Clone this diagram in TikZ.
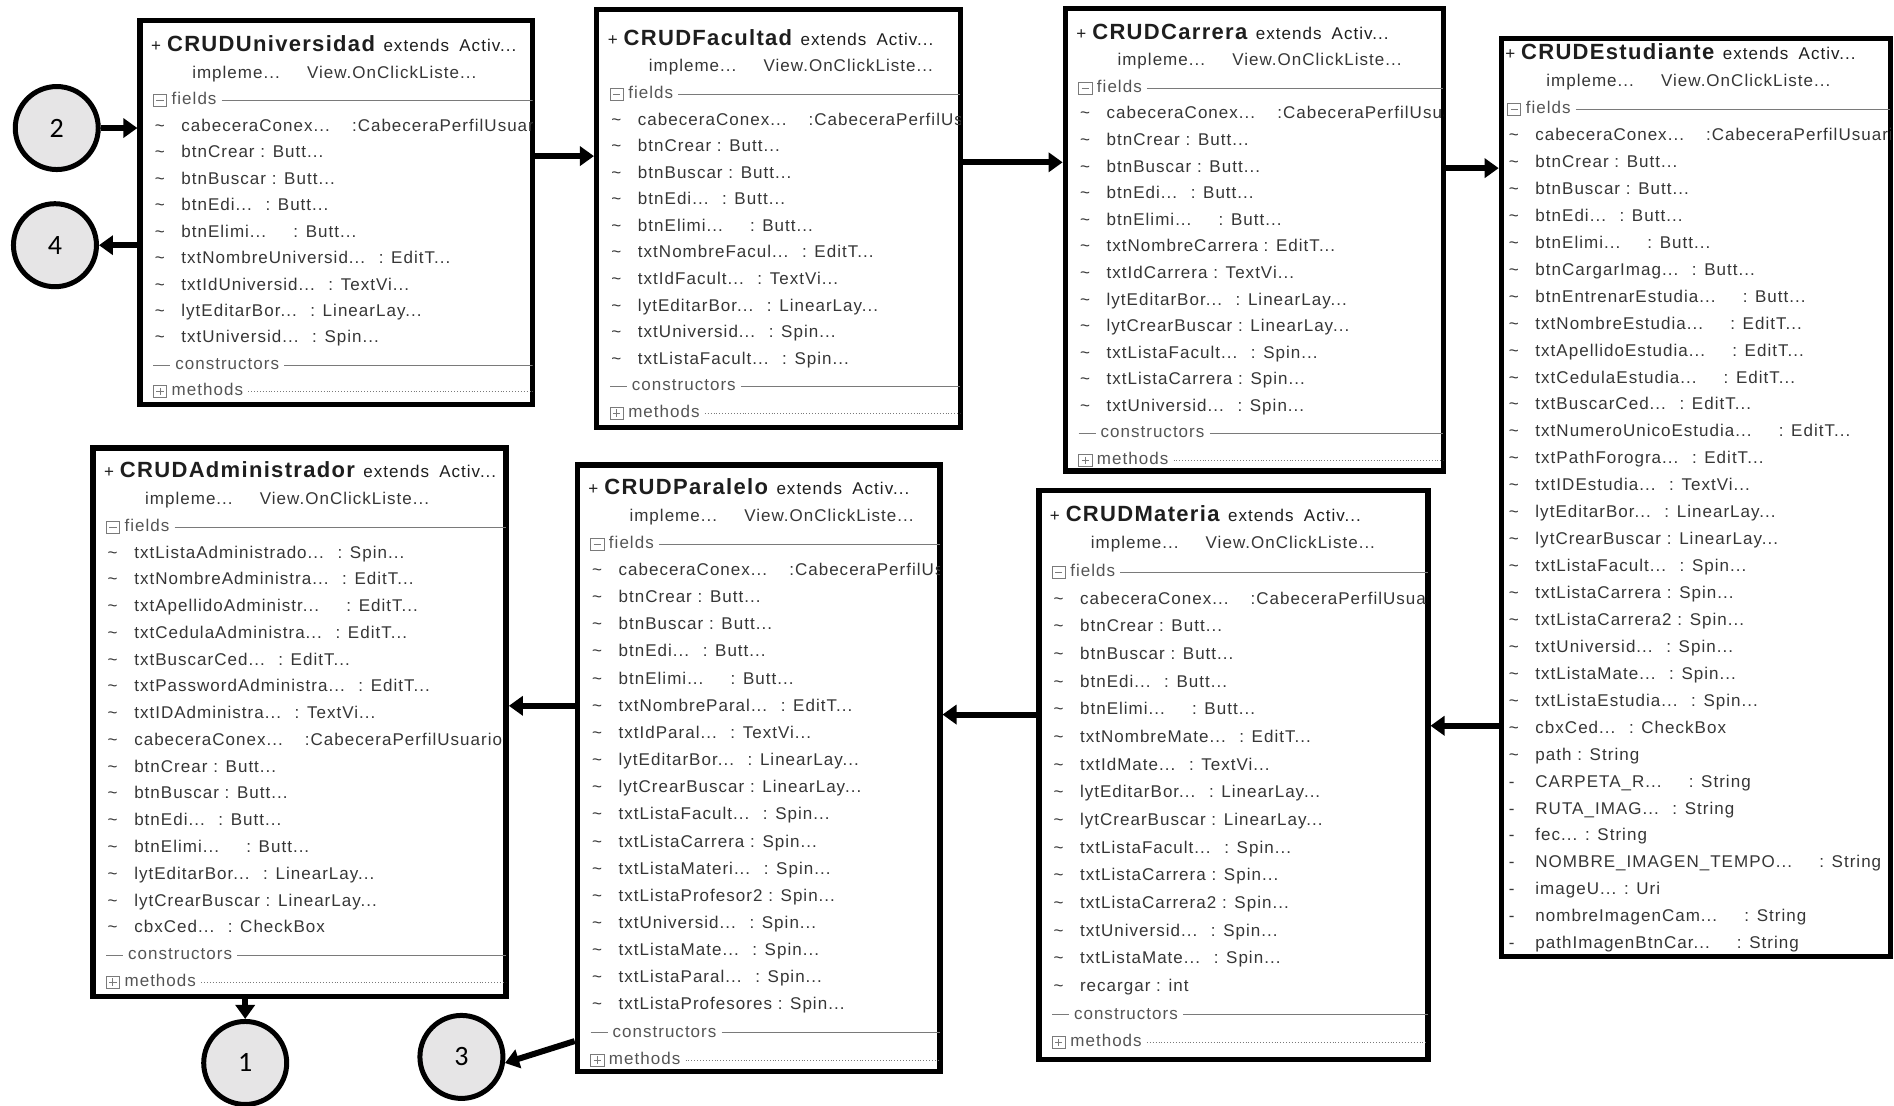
\documentclass[tikz,border=0pt]{standalone}
\usepackage{fontspec}
\setmainfont{Liberation Sans}
\newfontfamily\rowfont[LetterSpace=6]{Liberation Sans}
\newfontfamily\numfont{Carlito}
\usetikzlibrary{arrows.meta,calc,fit}

\definecolor{ink}{HTML}{363636}
\definecolor{titleink}{HTML}{1E1E1E}
\definecolor{rulegray}{HTML}{7A7A7A}
\definecolor{badgefill}{HTML}{E6E5E6}

\newcommand\tld{\char"007E\relax}
\newcommand\gp{\hspace{0.8em}}

\pgfkeys{/crud/.cd,
  l/.store in=\crL, t/.store in=\crT, r/.store in=\crR, b/.store in=\crB,
  ty/.store in=\crTY, p/.store in=\crP, n/.store in=\crN, dx/.store in=\crDX}

% one collapsed UML class: #1 node name, #2 geometry keys, #3 class name, #4 field rows
\newcommand\crudclass[4]{%
  \pgfkeys{/crud/.cd,dx=0,#2}%
  \node[classbox, fit={(\crL,\crT) (\crR,\crB)}] (#1) {};
  \begin{scope}
    \clip (\crL,\crT) rectangle (\crR,\crB);
    \pgfmathsetmacro\crX{\crL+\crDX}
    \node[rowtext, text=titleink] at (\crX+9,\crTY)
      {+\hspace{0.35em}{\bfseries\fontsize{22}{24}\selectfont #3}\hspace{0.5em}extends\hspace{0.6em}Activ...};
    \node[rowtext] at (\crX+43,\crTY+\crP) {impleme...};
    \node[rowtext] at (\crX+138,\crTY+\crP) {View.OnClickListe...};
    % fields section header
    \pgfmathsetmacro\crY{\crTY+2*\crP}
    \draw[seprule] (\crX+11,\crY-5) rectangle (\crX+22,\crY+5);
    \draw[seprule] (\crX+13.5,\crY) -- (\crX+19.5,\crY);
    \node[rowtext, text=rulegray!70!black] (#1-f) at (\crX+26,\crY) {fields};
    \draw[seprule] ([xshift=5pt]#1-f.east) -- (\crR,\crY);
    \foreach \m/\t [count=\i] in {#4} {
      \pgfmathsetmacro\crRow{\crTY+(2+\i)*\crP}
      \node[rowtext] at (\crX+12,\crRow) {\m};
      \node[rowtext] at (\crX+34,\crRow) {\t};
    }
    % constructors section header
    \pgfmathsetmacro\crY{\crTY+(3+\crN)*\crP}
    \draw[seprule] (\crX+11,\crY) -- (\crX+25,\crY);
    \node[rowtext, text=rulegray!70!black] (#1-c) at (\crX+29,\crY) {constructors};
    \draw[seprule] ([xshift=5pt]#1-c.east) -- (\crR,\crY);
    % methods section header
    \pgfmathsetmacro\crY{\crTY+(4+\crN)*\crP}
    \draw[seprule] (\crX+11,\crY-5) rectangle (\crX+22,\crY+5);
    \draw[seprule] (\crX+13.5,\crY) -- (\crX+19.5,\crY) (\crX+16.5,\crY-3) -- (\crX+16.5,\crY+3);
    \node[rowtext, text=rulegray!70!black] (#1-m) at (\crX+26,\crY) {methods};
    \draw[seprule, dotted] ([xshift=5pt]#1-m.east) -- (\crR,\crY);
  \end{scope}
}

\begin{document}
\begin{tikzpicture}[x=1.20791pt, y=-1.20791pt,
  classbox/.style={draw=black, line width=5.5pt, inner sep=0pt, fill=white},
  rowtext/.style={anchor=west, inner sep=0pt, text=ink,
    font=\rowfont\fontsize{17}{20}\selectfont, text height=12pt, text depth=3.5pt},
  seprule/.style={draw=rulegray, line width=0.9pt},
  numbadge/.style={circle, draw=black, line width=5pt, fill=badgefill,
    minimum size=83pt, inner sep=0pt, font=\numfont\fontsize{28}{34}\selectfont},
  flow/.style={line width=6pt, -{Triangle[length=14pt,width=19pt]}}]

\fill[white] (0,0) rectangle (1568,915);
\useasboundingbox (0,0) rectangle (1568,915);

\crudclass{univ}{l=116,t=17,r=441,b=335,ty=39.5,p=21.9,n=9}{CRUDUniversidad}{
  \tld/{cabeceraConex...\hspace{1.3em}:CabeceraPerfilUsuario},
  \tld/{btnCrear : Butt...},
  \tld/{btnBuscar : Butt...},
  \tld/{btnEdi...\gp: Butt...},
  \tld/{btnElimi...\gp\gp: Butt...},
  \tld/{txtNombreUniversid...\gp: EditT...},
  \tld/{txtIdUniversid...\gp: TextVi...},
  \tld/{lytEditarBor...\gp: LinearLay...},
  \tld/{txtUniversid...\gp: Spin...}}

\crudclass{fac}{l=494,t=8,r=795,b=354,ty=34,p=22,n=10}{CRUDFacultad}{
  \tld/{cabeceraConex...\hspace{1.3em}:CabeceraPerfilUsuario},
  \tld/{btnCrear : Butt...},
  \tld/{btnBuscar : Butt...},
  \tld/{btnEdi...\gp: Butt...},
  \tld/{btnElimi...\gp\gp: Butt...},
  \tld/{txtNombreFacul...\gp: EditT...},
  \tld/{txtIdFacult...\gp: TextVi...},
  \tld/{lytEditarBor...\gp: LinearLay...},
  \tld/{txtUniversid...\gp: Spin...},
  \tld/{txtListaFacult...\gp: Spin...}}

\crudclass{car}{l=882,t=7,r=1195,b=390,ty=29,p=22,n=12}{CRUDCarrera}{
  \tld/{cabeceraConex...\hspace{1.3em}:CabeceraPerfilUsuario},
  \tld/{btnCrear : Butt...},
  \tld/{btnBuscar : Butt...},
  \tld/{btnEdi...\gp: Butt...},
  \tld/{btnElimi...\gp\gp: Butt...},
  \tld/{txtNombreCarrera : EditT...},
  \tld/{txtIdCarrera : TextVi...},
  \tld/{lytEditarBor...\gp: LinearLay...},
  \tld/{lytCrearBuscar : LinearLay...},
  \tld/{txtListaFacult...\gp: Spin...},
  \tld/{txtListaCarrera : Spin...},
  \tld/{txtUniversid...\gp: Spin...}}

\crudclass{est}{l=1243,t=32,r=1565,b=792,ty=46,p=22.3,n=31,dx=-6}{CRUDEstudiante}{
  \tld/{cabeceraConex...\hspace{1.3em}:CabeceraPerfilUsuario},
  \tld/{btnCrear : Butt...},
  \tld/{btnBuscar : Butt...},
  \tld/{btnEdi...\gp: Butt...},
  \tld/{btnElimi...\gp\gp: Butt...},
  \tld/{btnCargarImag...\gp: Butt...},
  \tld/{btnEntrenarEstudia...\gp\gp: Butt...},
  \tld/{txtNombreEstudia...\gp\gp: EditT...},
  \tld/{txtApellidoEstudia...\gp\gp: EditT...},
  \tld/{txtCedulaEstudia...\gp\gp: EditT...},
  \tld/{txtBuscarCed...\gp: EditT...},
  \tld/{txtNumeroUnicoEstudia...\gp\gp: EditT...},
  \tld/{txtPathForogra...\gp: EditT...},
  \tld/{txtIDEstudia...\gp: TextVi...},
  \tld/{lytEditarBor...\gp: LinearLay...},
  \tld/{lytCrearBuscar : LinearLay...},
  \tld/{txtListaFacult...\gp: Spin...},
  \tld/{txtListaCarrera : Spin...},
  \tld/{txtListaCarrera2 : Spin...},
  \tld/{txtUniversid...\gp: Spin...},
  \tld/{txtListaMate...\gp: Spin...},
  \tld/{txtListaEstudia...\gp: Spin...},
  \tld/{cbxCed...\gp: CheckBox},
  \tld/{path : String},
  -/{CARPETA\_R...\gp\gp: String},
  -/{RUTA\_IMAG...\gp: String},
  -/{fec... : String},
  -/{NOMBRE\_IMAGEN\_TEMPO...\gp\gp: String},
  -/{imageU... : Uri},
  -/{nombreImagenCam...\gp\gp: String},
  -/{pathImagenBtnCar...\gp\gp: String}}

\crudclass{adm}{l=77,t=371,r=419,b=825,ty=392,p=22.16,n=15}{CRUDAdministrador}{
  \tld/{txtListaAdministrado...\gp: Spin...},
  \tld/{txtNombreAdministra...\gp: EditT...},
  \tld/{txtApellidoAdministr...\gp\gp: EditT...},
  \tld/{txtCedulaAdministra...\gp: EditT...},
  \tld/{txtBuscarCed...\gp: EditT...},
  \tld/{txtPasswordAdministra...\gp: EditT...},
  \tld/{txtIDAdministra...\gp: TextVi...},
  \tld/{cabeceraConex...\hspace{1.3em}:CabeceraPerfilUsuario},
  \tld/{btnCrear : Butt...},
  \tld/{btnBuscar : Butt...},
  \tld/{btnEdi...\gp: Butt...},
  \tld/{btnElimi...\gp\gp: Butt...},
  \tld/{lytEditarBor...\gp: LinearLay...},
  \tld/{lytCrearBuscar : LinearLay...},
  \tld/{cbxCed...\gp: CheckBox}}

\crudclass{par}{l=478,t=385,r=778,b=887,ty=405.5,p=22.48,n=17}{CRUDParalelo}{
  \tld/{cabeceraConex...\hspace{1.3em}:CabeceraPerfilUsuario},
  \tld/{btnCrear : Butt...},
  \tld/{btnBuscar : Butt...},
  \tld/{btnEdi...\gp: Butt...},
  \tld/{btnElimi...\gp\gp: Butt...},
  \tld/{txtNombreParal...\gp: EditT...},
  \tld/{txtIdParal...\gp: TextVi...},
  \tld/{lytEditarBor...\gp: LinearLay...},
  \tld/{lytCrearBuscar : LinearLay...},
  \tld/{txtListaFacult...\gp: Spin...},
  \tld/{txtListaCarrera : Spin...},
  \tld/{txtListaMateri...\gp: Spin...},
  \tld/{txtListaProfesor2 : Spin...},
  \tld/{txtUniversid...\gp: Spin...},
  \tld/{txtListaMate...\gp: Spin...},
  \tld/{txtListaParal...\gp: Spin...},
  \tld/{txtListaProfesores : Spin...}}

\crudclass{mat}{l=860,t=406,r=1182,b=877,ty=428,p=22.9,n=15}{CRUDMateria}{
  \tld/{cabeceraConex...\hspace{1.3em}:CabeceraPerfilUsuario},
  \tld/{btnCrear : Butt...},
  \tld/{btnBuscar : Butt...},
  \tld/{btnEdi...\gp: Butt...},
  \tld/{btnElimi...\gp\gp: Butt...},
  \tld/{txtNombreMate...\gp: EditT...},
  \tld/{txtIdMate...\gp: TextVi...},
  \tld/{lytEditarBor...\gp: LinearLay...},
  \tld/{lytCrearBuscar : LinearLay...},
  \tld/{txtListaFacult...\gp: Spin...},
  \tld/{txtListaCarrera : Spin...},
  \tld/{txtListaCarrera2 : Spin...},
  \tld/{txtUniversid...\gp: Spin...},
  \tld/{txtListaMate...\gp: Spin...},
  \tld/{recargar : int}}

% numbered off-page connectors
\node[numbadge] (c2) at (47,106) {2};
\node[numbadge] (c4) at (45.5,203) {4};
\node[numbadge] (c1) at (203,880) {1};
\node[numbadge] (c3) at (382,875) {3};

% navigation flow between the screens
\draw[flow] (c2.east) -- (c2.east -| univ.west);
\draw[flow] (c4.east -| univ.west) -- (c4.east);
\draw[flow] ($(univ.north east)!0.355!(univ.south east)$) coordinate (a1) -- (a1 -| fac.west);
\draw[flow] ($(fac.north east)!0.367!(fac.south east)$) coordinate (a2) -- (a2 -| car.west);
\draw[flow] ($(car.north east)!0.347!(car.south east)$) coordinate (a3) -- (a3 -| est.west);
\draw[flow] ($(est.north west)!0.747!(est.south west)$) coordinate (a4) -- (a4 -| mat.east);
\draw[flow] ($(mat.north west)!0.395!(mat.south west)$) coordinate (a5) -- (a5 -| par.east);
\draw[flow] ($(par.north west)!0.398!(par.south west)$) coordinate (a6) -- (a6 -| adm.east);
\draw[flow] (adm.south -| c1) -- (c1.north);
\draw[flow] ($(par.north west)!0.946!(par.south west)$) -- (c3.-8);

\end{tikzpicture}
\end{document}
